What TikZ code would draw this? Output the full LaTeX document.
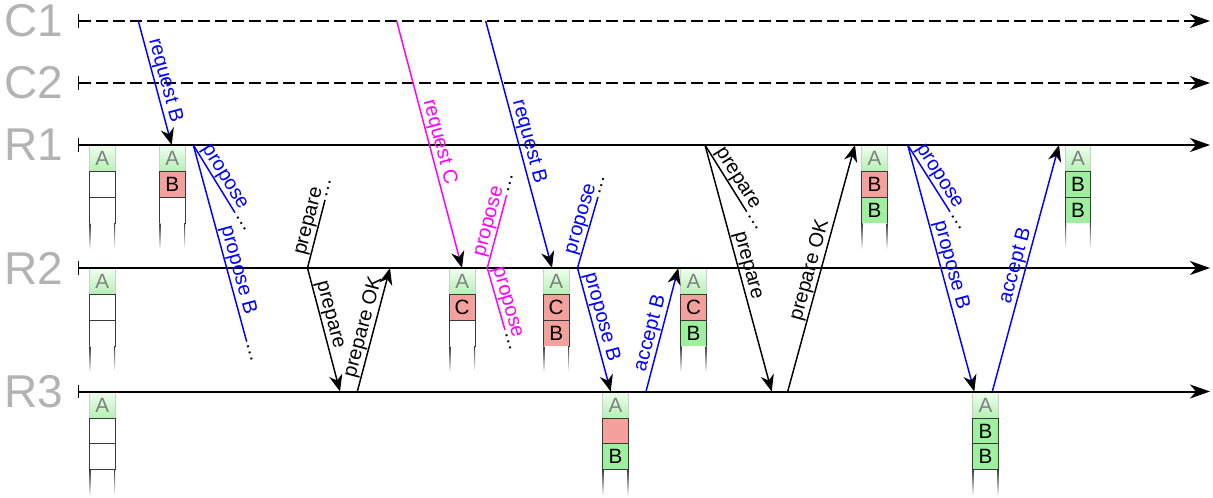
\documentclass[tikz,border=0pt]{standalone}
\usepackage{fontspec}
\setmainfont{Liberation Sans}
\usepackage{tikz}
\usetikzlibrary{arrows.meta,positioning}

\definecolor{lblgray}{HTML}{B3B3B3}
\definecolor{msgblue}{HTML}{0000FF}
\definecolor{msgpink}{HTML}{FF00FF}
\definecolor{cellred}{HTML}{F4A19D}
\definecolor{cellgreen}{HTML}{9EF09E}
\definecolor{cellpale}{HTML}{B4F0B4}
\definecolor{cellline}{HTML}{3A3A3A}

% log column: name, x, y, style 2, text 2, style 3, text 3
\newcommand{\logcol}[7]{%
\node[cellA] (#1a) at (#2,#3) {A};
\node[cell,#4,below=0pt of #1a] (#1b) {#5};
\node[cell,#6,below=0pt of #1b] (#1c) {#7};
\node[fadecell,below=0pt of #1c] (#1d) {};
}

\begin{document}
\begin{tikzpicture}[x=0.75pt,y=0.75pt,
  proc/.style={text=lblgray, font=\fontsize{34.5}{40}\selectfont, inner sep=0pt},
  tl/.style={line width=1.5pt, {Bar[width=10pt,line width=1pt]}-{Stealth[length=15pt,width=10.5pt,inset=4.5pt]}},
  tldash/.style={tl, dash pattern=on 9pt off 3.75pt},
  msg/.style={line width=1.1pt},
  arr/.style={-{Stealth[length=12.5pt,width=10pt,inset=4pt,color=black]}},
  lbl/.style={sloped, above=0pt, inner sep=0.4pt, font=\fontsize{15}{18}\selectfont},
  dotn/.style={sloped, anchor=west, inner sep=1pt, text=black, font=\fontsize{15}{18}\selectfont},
  cell/.style={draw=cellline, line width=0.75pt, outer sep=0pt, inner sep=0pt, minimum width=19.35pt, minimum height=19.35pt, fill=white, font=\fontsize{15.5}{18}\selectfont},
  cellA/.style={cell, anchor=north west, draw=gray!40, top color=green!7, bottom color=cellpale, text=gray},
  redcell/.style={fill=cellred},
  greencell/.style={fill=cellgreen},
  fadecell/.style={cell, draw=none, path picture={
    \shade[top color=cellline, bottom color=white] (path picture bounding box.north west) rectangle ([xshift=0.75pt]path picture bounding box.south west);
    \shade[top color=cellline, bottom color=white] ([xshift=-0.75pt]path picture bounding box.north east) rectangle (path picture bounding box.south east);}}
]
\useasboundingbox (0,0) rectangle (1213,-497);

% Text Node
\node[proc] (C1) at (34,-21) {C1};
% Text Node
\node[proc] (C2) at (34,-83) {C2};
% Text Node
\node[proc] (R1) at (34,-145) {R1};
% Text Node
\node[proc] (R2) at (34,-268) {R2};
% Text Node
\node[proc] (R3) at (34,-391.5) {R3};

\coordinate (C1s) at (78,-21);   \coordinate (C1e) at (1210,-21);
\coordinate (C2s) at (78,-83);   \coordinate (C2e) at (1210,-83);
\coordinate (R1s) at (78,-145);  \coordinate (R1e) at (1210,-145);
\coordinate (R2s) at (78,-268);  \coordinate (R2e) at (1210,-268);
\coordinate (R3s) at (78,-391.5);\coordinate (R3e) at (1210,-391.5);

% Log columns
\logcol{r1log1}{89.3}{-145.8}{}{}{}{}
\logcol{r1log2}{159.3}{-145.8}{redcell}{B}{}{}
\logcol{r1log3}{861.7}{-145.8}{redcell}{B}{greencell}{B}
\logcol{r1log4}{1065}{-145.8}{greencell}{B}{greencell}{B}
\logcol{r2log1}{89.3}{-268.8}{}{}{}{}
\logcol{r2log2}{449.3}{-268.8}{redcell}{C}{}{}
\logcol{r2log3}{543.3}{-268.8}{redcell}{C}{redcell}{B}
\logcol{r2log4}{680.7}{-268.8}{redcell}{C}{greencell}{B}
\logcol{r3log1}{89.3}{-392.3}{}{}{}{}
\logcol{r3log2}{602.7}{-392.3}{redcell}{}{greencell}{B}
\logcol{r3log3}{972.7}{-392.3}{greencell}{B}{greencell}{B}

% Connection
\draw[tldash] (C1s) -- (C1e);
% Connection
\draw[tldash] (C2s) -- (C2e);
% Connection
\draw[tl] (R1s) -- (R1e);
% Connection
\draw[tl] (R2s) -- (R2e);
% Connection
\draw[tl] (R3s) -- (R3e);

\coordinate (reqB1s) at (138.3,-21);   \coordinate (reqB1e) at (171.7,-145);
\coordinate (propA) at (193.3,-145);   \coordinate (propAup) at (235,-212.7);  \coordinate (propAdn) at (246.7,-341.7);
\coordinate (prepA) at (307.5,-268);   \coordinate (prepAup) at (325,-200);    \coordinate (prepAdn) at (340,-391.5);
\coordinate (prepOKAs) at (357.3,-391.5); \coordinate (prepOKAe) at (390,-268);
\coordinate (reqCs) at (396.7,-21);    \coordinate (reqCe) at (462,-268);
\coordinate (reqB2s) at (485.7,-21);   \coordinate (reqB2e) at (552,-268);
\coordinate (propC) at (487.3,-268);   \coordinate (propCup) at (506.7,-195);  \coordinate (propCdn) at (505,-330);
\coordinate (propB) at (577.5,-268);   \coordinate (propBup) at (598,-197);    \coordinate (propBdn) at (610.7,-391.5);
\coordinate (accB1s) at (646,-391.5);  \coordinate (accB1e) at (678.3,-268);
\coordinate (prepB) at (705,-145);     \coordinate (prepBup) at (746.7,-211.7); \coordinate (prepBdn) at (771.7,-391.5);
\coordinate (prepOKBs) at (787.7,-391.5); \coordinate (prepOKBe) at (855,-145);
\coordinate (propD) at (907.7,-145);   \coordinate (propDup) at (950,-211.7);  \coordinate (propDdn) at (974.3,-391.5);
\coordinate (accB2s) at (992.3,-391.5); \coordinate (accB2e) at (1059,-145);

% Connection
\draw[msg, msgblue, arr] (reqB1s) -- (reqB1e) node[lbl, pos=0.5] {request B};
% Connection
\draw[msg, msgblue] (propA) -- (propAup) node[lbl, pos=0.55] {propose} node[dotn, pos=1] {\dots};
% Connection
\draw[msg, msgblue] (propA) -- (propAdn) node[lbl, pos=0.65] {propose B} node[dotn, pos=1] {\dots};
% Connection
\draw[msg] (prepA) -- (prepAup) node[lbl, pos=0.65] {prepare} node[dotn, pos=1] {\dots};
% Connection
\draw[msg, arr] (prepA) -- (prepAdn) node[lbl, pos=0.4] {prepare};
% Connection
\draw[msg, arr] (prepOKAs) -- (prepOKAe) node[lbl, pos=0.5] {prepare OK};
% Connection
\draw[msg, msgpink, arr] (reqCs) -- (reqCe) node[lbl, pos=0.5] {request C};
% Connection
\draw[msg, msgblue, arr] (reqB2s) -- (reqB2e) node[lbl, pos=0.5] {request B};
% Connection
\draw[msg, msgpink] (propC) -- (propCup) node[lbl, pos=0.6] {propose} node[dotn, pos=1] {\dots};
% Connection
\draw[msg, msgpink] (propC) -- (propCdn) node[lbl, pos=0.6] {propose} node[dotn, pos=1] {\dots};
% Connection
\draw[msg, msgblue] (propB) -- (propBup) node[lbl, pos=0.65] {propose} node[dotn, pos=1] {\dots};
% Connection
\draw[msg, msgblue, arr] (propB) -- (propBdn) node[lbl, pos=0.42] {propose B};
% Connection
\draw[msg, msgblue, arr] (accB1s) -- (accB1e) node[lbl, pos=0.45] {accept B};
% Connection
\draw[msg] (prepB) -- (prepBup) node[lbl, pos=0.58] {prepare} node[dotn, pos=1] {\dots};
% Connection
\draw[msg, arr] (prepB) -- (prepBdn) node[lbl, pos=0.5] {prepare};
% Connection
\draw[msg, arr] (prepOKBs) -- (prepOKBe) node[lbl, pos=0.48] {prepare OK};
% Connection
\draw[msg, msgblue] (propD) -- (propDup) node[lbl, pos=0.55] {propose} node[dotn, pos=1] {\dots};
% Connection
\draw[msg, msgblue, arr] (propD) -- (propDdn) node[lbl, pos=0.5] {propose B};
% Connection
\draw[msg, msgblue, arr] (accB2s) -- (accB2e) node[lbl, pos=0.5] {accept B};

\end{tikzpicture}
\end{document}
